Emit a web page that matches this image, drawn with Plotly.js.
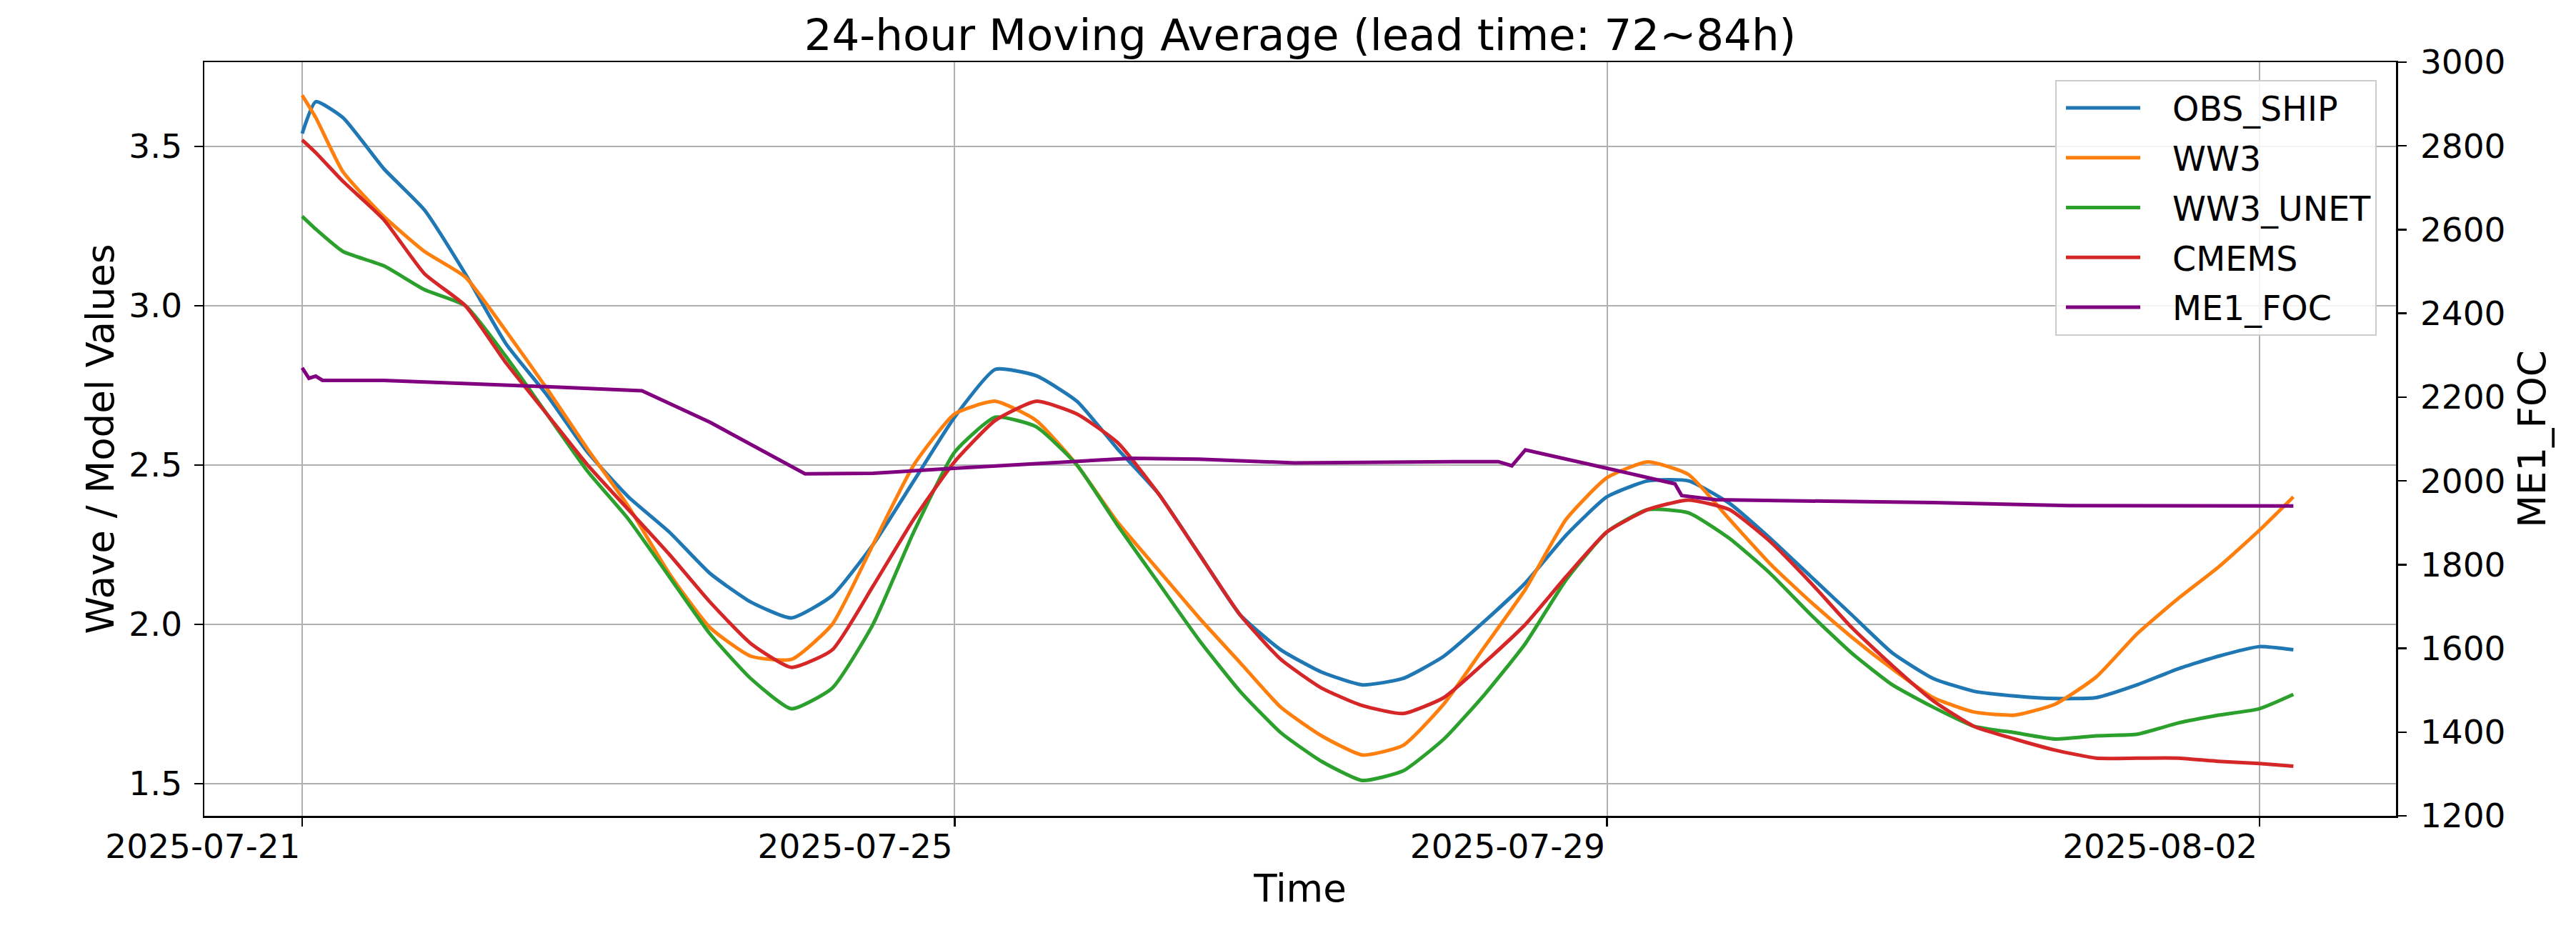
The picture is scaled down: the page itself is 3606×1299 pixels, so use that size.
<!DOCTYPE html>
<html>
<head>
<meta charset="utf-8">
<script src="https://cdn.plot.ly/plotly-3.0.1.min.js"></script>
<style>
  html, body { margin: 0; padding: 0; background: #ffffff; }
  #chart { width: 3606px; height: 1299px; }
</style>
</head>
<body>
<div id="chart"></div>
<script>
// ---- data ----
const startTime = '2025-07-21T00:00:00';
// hours since start
const hours = [0, 2, 6, 12, 18, 24, 30, 36, 42, 48, 54, 60, 66, 72, 78, 84, 90, 96, 102, 108,
  114, 120, 126, 132, 138, 144, 150, 156, 162, 168, 174, 180, 186, 192, 198, 204, 210, 216,
  222, 228, 234, 240, 246, 252, 258, 264, 270, 276, 282, 288, 293];

const obsShip = [3.54, 3.64, 3.59, 3.43, 3.30, 3.10, 2.88, 2.72, 2.54, 2.40, 2.29, 2.16, 2.07, 2.02,
  2.09, 2.25, 2.45, 2.65, 2.80, 2.78, 2.70, 2.55, 2.41, 2.22, 2.03, 1.92, 1.85, 1.81, 1.83, 1.90,
  2.01, 2.13, 2.28, 2.40, 2.45, 2.45, 2.38, 2.27, 2.15, 2.03, 1.91, 1.83, 1.79, 1.775, 1.767, 1.77,
  1.81, 1.86, 1.90, 1.93, 1.92];

const ww3 = [3.66, 3.59, 3.42, 3.28, 3.17, 3.09, 2.92, 2.74, 2.55, 2.37, 2.16, 1.99, 1.90, 1.89,
  2.00, 2.25, 2.50, 2.66, 2.70, 2.64, 2.50, 2.32, 2.17, 2.02, 1.88, 1.74, 1.65, 1.59, 1.62, 1.75,
  1.93, 2.11, 2.33, 2.46, 2.51, 2.47, 2.33, 2.19, 2.07, 1.96, 1.86, 1.77, 1.725, 1.715, 1.75, 1.835,
  1.97, 2.08, 2.18, 2.295, 2.40];

const ww3Unet = [3.28, 3.24, 3.17, 3.125, 3.05, 3.00, 2.84, 2.66, 2.48, 2.33, 2.15, 1.97, 1.83, 1.735,
  1.80, 2.00, 2.29, 2.54, 2.65, 2.62, 2.50, 2.31, 2.13, 1.95, 1.79, 1.66, 1.57, 1.51, 1.54, 1.64,
  1.78, 1.94, 2.14, 2.29, 2.36, 2.35, 2.27, 2.16, 2.03, 1.91, 1.81, 1.74, 1.68, 1.66, 1.64, 1.65,
  1.655, 1.69, 1.715, 1.735, 1.78];

const cmems = [3.52, 3.48, 3.39, 3.27, 3.10, 3.00, 2.82, 2.66, 2.50, 2.36, 2.22, 2.07, 1.94, 1.865,
  1.92, 2.12, 2.33, 2.51, 2.64, 2.70, 2.66, 2.57, 2.41, 2.22, 2.03, 1.89, 1.80, 1.745, 1.72, 1.77,
  1.88, 2.00, 2.15, 2.29, 2.36, 2.39, 2.36, 2.26, 2.13, 1.99, 1.87, 1.76, 1.68, 1.64, 1.605, 1.58,
  1.58, 1.58, 1.57, 1.563, 1.555];

const focHours = [0, 1, 2, 3, 12, 24, 36, 50, 60, 74, 84, 96, 108, 122, 132, 146, 170, 176, 178,
  180, 192, 202, 203, 208, 240, 260, 293];
const me1Foc = [2270, 2245, 2250, 2240, 2240, 2233, 2225, 2215, 2140, 2017, 2018, 2030, 2042, 2054,
  2052, 2043, 2046, 2046, 2036, 2074, 2030, 1993, 1965, 1955, 1948, 1941, 1940];

const seriesNames = ['OBS_SHIP', 'WW3', 'WW3_UNET', 'CMEMS', 'ME1_FOC'];
const xTickDates = ['2025-07-21', '2025-07-25', '2025-07-29', '2025-08-02'];
const leftTicks = [1.5, 2.0, 2.5, 3.0, 3.5];
const rightTicks = [1200, 1400, 1600, 1800, 2000, 2200, 2400, 2600, 2800, 3000];

// ---- helpers ----
const t0 = Date.parse(startTime + 'Z');
function hToDate(h) {
  return new Date(t0 + h * 3600000).toISOString().slice(0, 19).replace('T', ' ');
}
const xWave = hours.map(hToDate);
const xFoc = focHours.map(hToDate);

const FONT = 'DejaVu Sans, Liberation Sans, Arial, sans-serif';
const colors = ['#1f77b4', '#ff7f0e', '#2ca02c', '#d62728', '#800080'];
const waveData = [obsShip, ww3, ww3Unet, cmems];

const traces = waveData.map((ys, i) => ({
  type: 'scatter', mode: 'lines', name: seriesNames[i], legendgroup: 'g' + i,
  x: xWave, y: ys, xaxis: 'x', yaxis: 'y',
  line: { color: colors[i], width: 5, shape: 'spline', smoothing: 0.5 }
}));
traces.push({
  type: 'scatter', mode: 'lines', name: seriesNames[4], legendgroup: 'g4',
  x: xFoc, y: me1Foc, xaxis: 'x', yaxis: 'y2',
  line: { color: colors[4], width: 5 }
});

const axisCommon = {
  showline: true, linecolor: '#000000', linewidth: 2.5,
  ticks: 'outside', ticklen: 12, tickwidth: 2.5, tickcolor: '#000000',
  tickfont: { family: FONT, size: 47, color: '#000000' },
  zeroline: false
};

const layout = {
  width: 3606, height: 1299,
  paper_bgcolor: '#ffffff', plot_bgcolor: '#ffffff',
  margin: { l: 286, r: 252, t: 87, b: 157, pad: 0 },
  font: { family: FONT, color: '#000000' },
  title: {
    text: '24-hour Moving Average (lead time: 72~84h)',
    font: { family: FONT, size: 61, color: '#000000' },
    x: 0.5, xref: 'paper', xanchor: 'center',
    y: 1, yref: 'paper', yanchor: 'bottom', pad: { b: 17 }
  },
  xaxis: Object.assign({}, axisCommon, {
    type: 'date',
    range: [hToDate(-14.4), hToDate(308.1)],
    tickvals: xTickDates, tickformat: '%Y-%m-%d',
    ticklabelposition: 'outside left',
    mirror: true,
    showgrid: true, gridcolor: '#b0b0b0', gridwidth: 2,
    title: { text: 'Time', font: { family: FONT, size: 53 }, standoff: 14 },
    automargin: false
  }),
  yaxis: Object.assign({}, axisCommon, {
    range: [1.399, 3.764],
    tickvals: leftTicks, tickformat: '.1f',
    showgrid: true, gridcolor: '#b0b0b0', gridwidth: 2,
    ticklabelstandoff: 7,
    title: { text: 'Wave / Model Values', font: { family: FONT, size: 53 }, standoff: 4 },
    automargin: false
  }),
  yaxis2: Object.assign({}, axisCommon, {
    overlaying: 'y', side: 'right', anchor: 'x',
    range: [1200, 3000],
    tickvals: rightTicks,
    showgrid: false,
    ticklabelstandoff: 10,
    title: { text: 'ME1_FOC', font: { family: FONT, size: 53 }, standoff: 20 },
    automargin: false
  }),
  legend: {
    x: 0.9912, xanchor: 'right', y: 0.9767, yanchor: 'top',
    bgcolor: 'rgba(255,255,255,0.85)', bordercolor: '#cccccc', borderwidth: 2,
    font: { family: FONT, size: 47.5, color: '#000000' },
    tracegroupgap: 5, itemwidth: 152
  },
  showlegend: true
};

Plotly.newPlot('chart', traces, layout, { staticPlot: true, displayModeBar: false }).then(gd => {
  // lengthen the legend line samples (matplotlib-style handle length)
  gd.querySelectorAll('.legend .legendlines path').forEach(p => p.setAttribute('d', 'M13,0h104'));
});
</script>
</body>
</html>
